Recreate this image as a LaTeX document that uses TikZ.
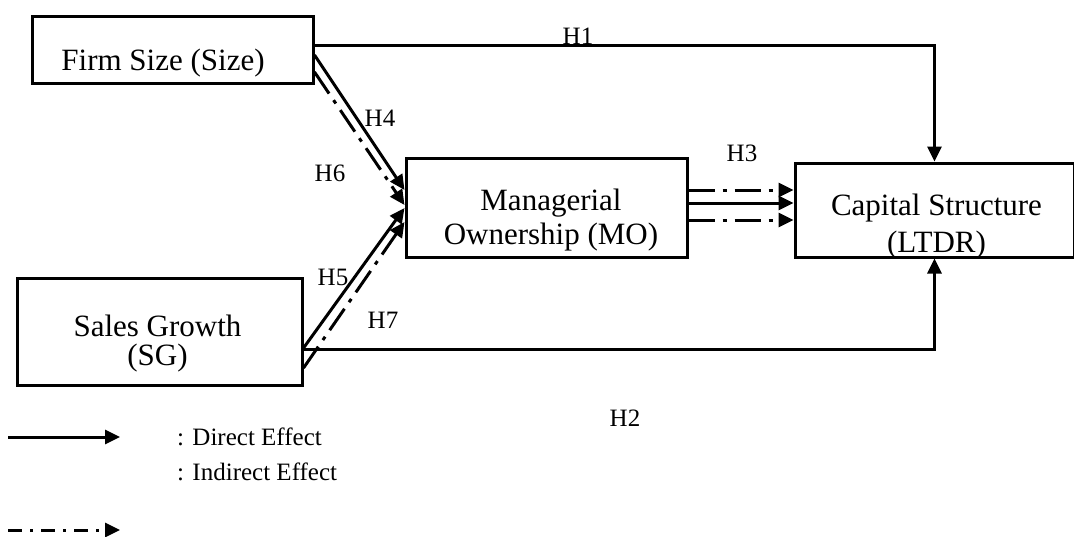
\documentclass[tikz,border=0pt]{standalone}
\usepackage{fontspec}
\setmainfont{Liberation Serif}
\usetikzlibrary{arrows.meta,positioning}

\begin{document}
\begin{tikzpicture}[x=1pt, y=-1pt, >={Triangle[length=15pt,width=14pt]}]
        \tikzset{
            box/.style={draw=black, rectangle, line width=3pt, inner sep=0pt},
            boxtext/.style={font=\fontsize{31}{34}\selectfont, align=center, inner sep=0pt},
            hyp/.style={font=\fontsize{25}{28}\selectfont, inner sep=0pt},
            legtext/.style={font=\fontsize{25}{28}\selectfont, anchor=west, inner sep=0pt},
            line/.style={draw, ->, line width=3pt},
            indirect/.style={draw, ->, line width=3pt, dash pattern=on 26pt off 8pt on 4pt off 8pt},
            legindirect/.style={draw, ->, line width=3pt, dash pattern=on 14pt off 8pt on 3pt off 8pt}
        }
        \useasboundingbox (0,0) rectangle (1074,536);

        % Variables
        \node[box, minimum width=281pt, minimum height=67pt, label={[boxtext, xshift=-9.5pt, yshift=-13.5pt]center:Firm Size (Size)}] (size) at (172.5, 49.5) {};
        \node[box, minimum width=285pt, minimum height=107pt, label={[boxtext, font=\fontsize{31}{29}\selectfont, xshift=-2pt, yshift=-12pt]center:Sales Growth\\(SG)}] (sg) at (159.5, 331.5) {};
        \node[box, minimum width=281pt, minimum height=99pt, label={[boxtext, xshift=4.5pt, yshift=-12.5pt]center:Managerial\\Ownership (MO)}] (mo) at (546.5, 207.5) {};
        \node[box, minimum width=279pt, minimum height=94pt, label={[boxtext, font=\fontsize{31}{37}\selectfont, xshift=2pt, yshift=-16.5pt]center:Capital Structure\\(LTDR)}] (cs) at (934.5, 210) {};

        % Direct paths to Capital Structure
        \path[line] ([yshift=4.5pt]size.east) -| (cs.north);
        \path[line] ([yshift=-17.5pt]sg.east) -| (cs.south);

        % Paths to Managerial Ownership
        \path[line] ([yshift=-5.5pt]size.east) -- ([yshift=17.5pt]mo.west);
        \path[indirect] ([yshift=-22.5pt]size.east) -- ([yshift=2.5pt]mo.west);
        \path[line] ([yshift=-16.5pt]sg.east) -- ([yshift=-0.5pt]mo.west);
        \path[indirect] ([yshift=-36.5pt]sg.east) -- ([yshift=-14.5pt]mo.west);

        % Managerial Ownership to Capital Structure
        \path[indirect] ([yshift=17.5pt]mo.east) -- ([yshift=20pt]cs.west);
        \path[line] ([yshift=4.5pt]mo.east) -- ([yshift=7pt]cs.west);
        \path[indirect] ([yshift=-12.5pt]mo.east) -- ([yshift=-10pt]cs.west);

        % Hypotheses
        \node[hyp] (h1) at (578, 36) {H1};
        \node[hyp] (h2) at (625, 418) {H2};
        \node[hyp] (h3) at (742, 153) {H3};
        \node[hyp] (h4) at (380, 118) {H4};
        \node[hyp] (h5) at (333, 277) {H5};
        \node[hyp] (h6) at (330, 173) {H6};
        \node[hyp] (h7) at (383, 320) {H7};

        % Legend
        \coordinate (dstart) at (8, 437);
        \coordinate (dend) at (120, 437);
        \path[line] (dstart) -- (dend);
        \node[legtext] (dtext) at (177, 437) {: Direct Effect};
        \node[legtext] (itext) at (177, 472) {: Indirect Effect};
        \coordinate (istart) at (8, 530);
        \coordinate (iend) at (120, 530);
        \path[legindirect] (istart) -- (iend);

    \end{tikzpicture}
\end{document}
